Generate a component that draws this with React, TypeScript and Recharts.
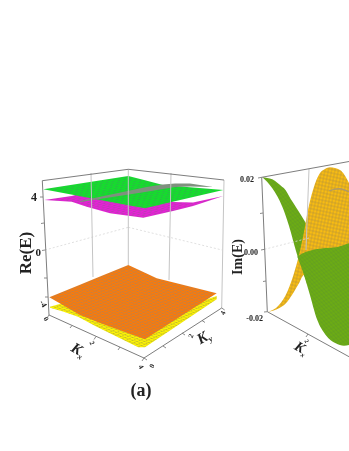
import { ComposedChart, Area, Line, XAxis, YAxis } from "recharts";

const greenX = [43.3, 128.3, 145, 163, 223.3];
const greenTop = [189.3, 176, 180.3, 185, 190];
const greenBottom = [189.3, 205.2, 208.3, 204, 190];

const ridgeX = [80, 146.7, 163, 175, 190, 213];
const ridgeTop = [201, 187, 184.5, 183.5, 183.5, 187];
const ridgeBottom = [202, 191.7, 189, 187, 186.5, 187];

const magentaX = [44.3, 71.7, 86.7, 110, 143.3, 173, 193, 223.3];
const magentaTop = [200, 196, 192, 190, 190, 202, 202.5, 196];
const magentaBottom = [200, 201.7, 206.7, 213.3, 217.7, 211, 206, 196];

const orangeX = [49.3, 80, 100, 128.3, 145, 156.7, 216.7];
const orangeTop = [297.3, 284.7, 276.6, 265, 272.8, 278.3, 293.3];
const orangeBottom = [297.3, 315, 323, 333.3, 339.3, 331.8, 293.3];

const yellowX = [50, 63, 78, 96.7, 138.3, 145, 216.7];
const yellowTop = [306.7, 303, 300, 305, 318, 320, 296];
const yellowBottom = [307.7, 311.5, 316.7, 326.7, 347.3, 347.3, 299.3];

const goldX = [268.3, 279, 287.3, 294, 299, 304, 308, 313, 320, 325, 330, 340, 349];
const goldTop = [311.7, 305, 291.7, 273.3, 255, 232, 210, 190, 173, 169, 167.3, 170, 183];
const goldBottom = [311.7, 308.3, 301.7, 291.7, 283.3, 275, 285, 285, 285, 285, 285, 285, 285];

const goldRidgeX = [329, 339, 349];
const goldRidgeTop = [190.5, 188, 191];
const goldRidgeBottom = [191.3, 189.5, 192.5];

const leafX = [262.3, 272.3, 282.3, 284, 290.7, 295.7, 304, 309];
const leafTop = [177.3, 179.3, 187, 188.3, 199, 206.7, 220, 228.3];
const leafBottom = [177.3, 188.3, 206.7, 211, 231.7, 250, 275, 285];

const bodyX = [297.3, 302.3, 309, 317.3, 325.7, 335.7, 344, 349];
const bodyTop = [256.7, 253.5, 251, 249, 248, 247.3, 245, 243.3];
const bodyBottom = [256.7, 270, 291.7, 320, 335, 343.3, 345.7, 345];

const leftFrame = [
  [42.3, 180.7, 128.3, 169.3],
  [128.3, 169.3, 224, 180],
  [42.3, 180.7, 49, 315],
  [49, 315, 144, 358],
  [144, 358, 221.7, 308],
];
const leftTicks = [
  [43, 197, 40, 197],
  [44, 223, 41, 223.5],
  [45, 250, 42, 250.5],
  [47, 278, 44, 278],
  [48, 297, 45, 297],
  [49, 315, 47, 318],
  [72, 325.5, 70, 328],
  [96, 336.5, 94, 339.5],
  [120, 347, 118, 350],
  [144, 358, 142, 361],
  [144, 358, 147, 360],
  [163, 346, 166, 348],
  [182, 333, 185, 335],
  [202, 320.5, 205, 322.5],
  [221.7, 308, 224.7, 310],
];
const leftWalls = [
  [91, 173, 93, 277],
  [171, 173, 169, 280],
  [128.3, 169.3, 128.3, 265],
  [224, 180, 221.7, 308],
];
const leftDotted = [
  [45, 250, 128.3, 227.3],
  [128.3, 227.3, 222, 250],
];
const rightFrame = [
  [261.7, 177.3, 349, 161.5],
  [261.7, 177.3, 267.3, 311.7],
  [267.3, 311.7, 349, 356.7],
];
const rightTicks = [
  [261.7, 177.3, 258, 178],
  [263, 213, 260, 213.5],
  [264.5, 249.3, 261, 250],
  [266, 281, 263, 281.5],
  [267.3, 311.7, 264, 312],
  [308, 334, 306, 337],
];
const rightWalls = [[309, 169, 306, 250]];
const rightDotted = [[264.5, 249.3, 309, 238]];

const reTicks = ["4", "0", "-4"];
const imTicks = ["0.02", "0.00", "-0.02"];

const band = (xs: number[], tops: number[], bottoms: number[]) =>
  xs.map((x, i) => ({ x, band: [tops[i], bottoms[i]] }));

const segment = (s: number[]) => [
  { x: s[0], y: s[1] },
  { x: s[2], y: s[3] },
];

const serif = "'Liberation Serif', serif";

// lattice fill, one cell spanned by the vectors u and v
function mesh(id: string, fill: string, line: string, u: number[], v: number[], w = 0.5) {
  const k = 0.1;
  return (
    <pattern
      id={id}
      patternUnits="userSpaceOnUse"
      width={10}
      height={10}
      patternTransform={`matrix(${u[0] * k} ${u[1] * k} ${v[0] * k} ${v[1] * k} 0 0)`}
    >
      <rect width={10} height={10} fill={fill} />
      <path d="M0 5H10M5 0V10" stroke={line} strokeWidth={w * 10 / Math.hypot(u[0], u[1])} fill="none" />
    </pattern>
  );
}

function lines(list: number[][], key: string, color: string, width: number, dash?: string) {
  return list.map((s, i) => (
    <Line
      key={key + i}
      data={segment(s)}
      dataKey="y"
      stroke={color}
      strokeWidth={width}
      strokeDasharray={dash}
      dot={false}
      activeDot={false}
      legendType="none"
      isAnimationActive={false}
    />
  ));
}

function surface(id: string, data: { x: number; band: number[] }[], fill: string, curve: "linear" | "monotone" = "linear") {
  return (
    <Area
      key={id}
      data={data}
      dataKey="band"
      type={curve}
      stroke="none"
      fill={fill}
      fillOpacity={1}
      dot={false}
      activeDot={false}
      isAnimationActive={false}
    />
  );
}

export default function App() {
  const tick = { fontFamily: serif, fontWeight: 700, fill: "#222" };
  return (
    <div style={{ position: "absolute", left: 0, top: 0, width: 349, height: 451, overflow: "hidden", filter: "blur(0.35px)" }}>
      <ComposedChart width={349} height={451} margin={{ top: 0, right: 0, bottom: 0, left: 0 }}>
        <defs>
          {mesh("mGreen", "#10e428", "#3c9f58", [3.9, 1.2], [-3.5, 0.6])}
          {mesh("mMagenta", "#e81ed8", "#a0509a", [3.9, 1.2], [-3.5, 0.6])}
          {mesh("mOrange", "#fb7a08", "#a08468", [4, 1.3], [-3.6, 1.47])}
          {mesh("mYellow", "#fdf404", "#a09a40", [4, 1.3], [-3.6, 1.47])}
          {mesh("mGold", "#f8bc12", "#a88c40", [3.2, 0.7], [0.7, -3.5], 0.45)}
          {mesh("mLeaf", "#6cac14", "#5a942c", [2.4, 2.6], [2.4, -1.4], 0.4)}
        </defs>
        <XAxis type="number" dataKey="x" domain={[0, 349]} hide allowDataOverflow />
        <YAxis type="number" domain={[0, 451]} reversed hide allowDataOverflow />

        {lines(leftDotted, "ld", "#d8d8d8", 0.8, "2 2")}
        {lines(rightDotted, "rd", "#d8d8d8", 0.8, "2 2")}
        {lines(leftWalls, "lw", "#c4c4c4", 1)}
        {lines(rightWalls, "rw", "#c4c4c4", 1)}
        {lines(leftFrame, "lf", "#6e6e6e", 0.9)}
        {lines(rightFrame, "rf", "#6e6e6e", 0.9)}
        {lines(leftTicks, "lt", "#6e6e6e", 0.8)}
        {lines(rightTicks, "rt", "#6e6e6e", 0.8)}

        {surface("yellow", band(yellowX, yellowTop, yellowBottom), "url(#mYellow)")}
        {surface("orange", band(orangeX, orangeTop, orangeBottom), "url(#mOrange)")}
        {surface("magenta", band(magentaX, magentaTop, magentaBottom), "url(#mMagenta)")}
        {surface("green", band(greenX, greenTop, greenBottom), "url(#mGreen)")}
        {surface("ridge", band(ridgeX, ridgeTop, ridgeBottom), "#7f907e")}
        {surface("leaf", band(leafX, leafTop, leafBottom), "url(#mLeaf)", "monotone")}
        {surface("gold", band(goldX, goldTop, goldBottom), "url(#mGold)", "monotone")}
        {surface("goldRidge", band(goldRidgeX, goldRidgeTop, goldRidgeBottom), "#b09a66", "monotone")}
        {surface("body", band(bodyX, bodyTop, bodyBottom), "url(#mLeaf)", "monotone")}

        <text x={0} y={0} transform="translate(31 253) rotate(-90)" textAnchor="middle" fontSize={17} {...tick}>Re(E)</text>
        <text x={37} y={201} textAnchor="end" fontSize={12} {...tick}>{reTicks[0]}</text>
        <text x={41} y={256} textAnchor="end" fontSize={11} {...tick}>{reTicks[1]}</text>
        <text x={0} y={0} transform="translate(41 305) rotate(60)" textAnchor="middle" fontSize={8} {...tick}>{reTicks[2]}</text>

        <text x={0} y={0} transform="translate(44 320) rotate(60)" textAnchor="middle" fontSize={7} {...tick}>0</text>
        <text x={0} y={0} transform="translate(90 344) rotate(60)" textAnchor="middle" fontSize={7} {...tick}>2</text>
        <text x={0} y={0} transform="translate(139 368) rotate(60)" textAnchor="middle" fontSize={7} {...tick}>4</text>
        <text x={0} y={0} transform="translate(154 367) rotate(-65)" textAnchor="middle" fontSize={7} {...tick}>0</text>
        <text x={0} y={0} transform="translate(193 337) rotate(-65)" textAnchor="middle" fontSize={7} {...tick}>2</text>
        <text x={0} y={0} transform="translate(225 314) rotate(-65)" textAnchor="middle" fontSize={7} {...tick}>4</text>

        <text x={0} y={0} transform="translate(76 354) rotate(30)" textAnchor="middle" fontSize={15} fontStyle="italic" {...tick}>
          K<tspan fontSize={8} dy={3}>x</tspan>
        </text>
        <text x={0} y={0} transform="translate(206 341) rotate(-30)" textAnchor="middle" fontSize={15} fontStyle="italic" {...tick}>
          K<tspan fontSize={8} dy={3}>y</tspan>
        </text>
        <text x={141} y={396} textAnchor="middle" fontSize={18} {...tick}>(a)</text>

        <text x={0} y={0} transform="translate(242 257) rotate(-90)" textAnchor="middle" fontSize={14} {...tick}>Im(E)</text>
        <text x={254} y={182} textAnchor="end" fontSize={8} {...tick}>{imTicks[0]}</text>
        <text x={258} y={255} textAnchor="end" fontSize={8} {...tick}>{imTicks[1]}</text>
        <text x={263} y={321} textAnchor="end" fontSize={8} {...tick}>{imTicks[2]}</text>
        <text x={0} y={0} transform="translate(299 352) rotate(30)" textAnchor="middle" fontSize={14} fontStyle="italic" {...tick}>
          K<tspan fontSize={7} dy={3}>x</tspan>
        </text>
        <text x={0} y={0} transform="translate(305 342) rotate(60)" textAnchor="middle" fontSize={6} {...tick}>2</text>
      </ComposedChart>
    </div>
  );
}
